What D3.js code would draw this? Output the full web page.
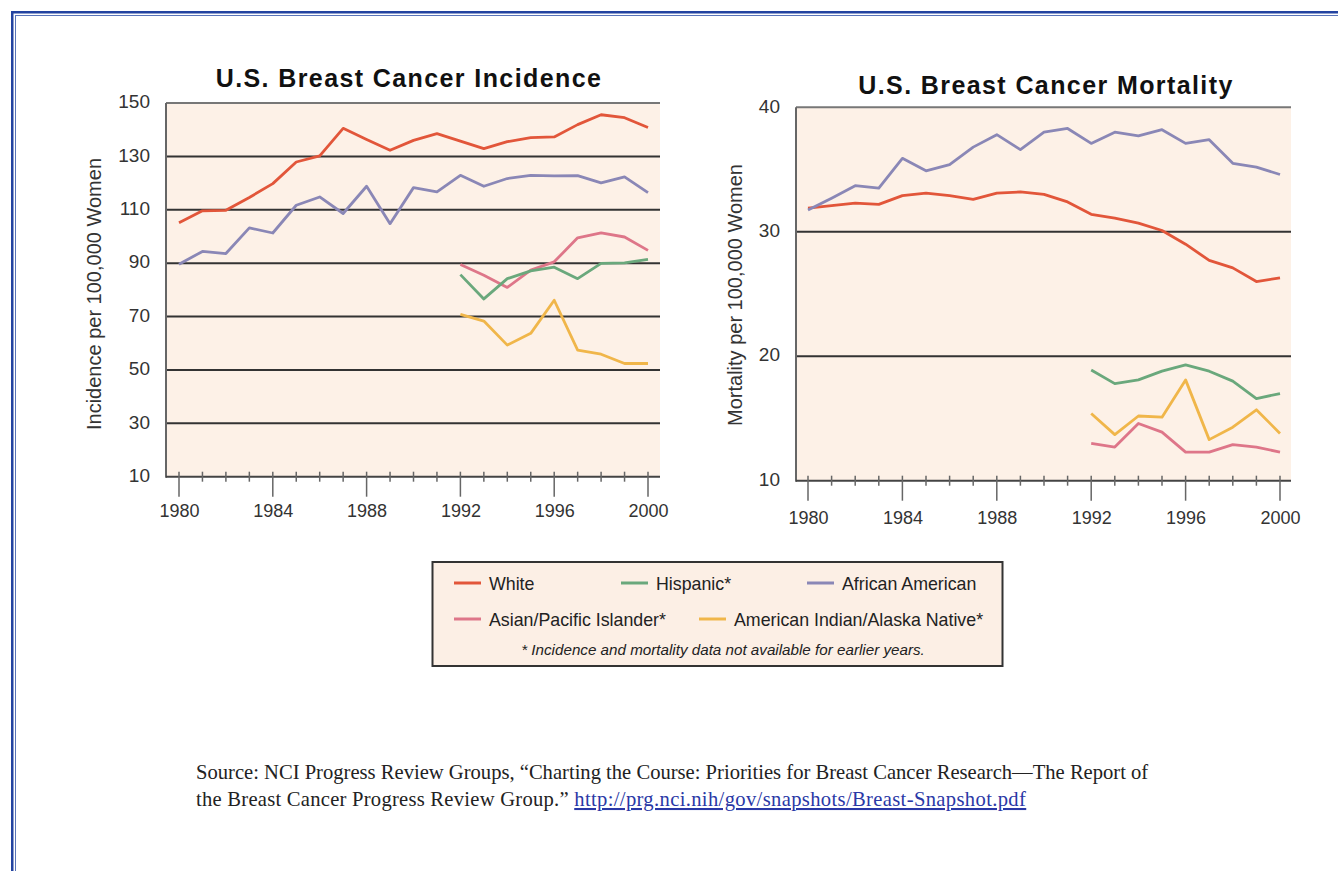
<!DOCTYPE html>
<html>
<head>
<meta charset="utf-8">
<script src="https://cdn.jsdelivr.net/npm/d3@7"></script>
<style>
  body { margin:0; background:#fff; overflow:hidden; }
  svg { display:block; }
  text { font-family:"Liberation Sans", Arial, Helvetica, sans-serif; fill:#2b2b2b; }
  .title { font-weight:bold; font-size:25px; letter-spacing:1.4px; fill:#111; }
  .tick text { font-size:19px; fill:#333; }
  .xlab text { font-size:18px; }
  .ytitle { font-size:20px; fill:#333; }
  .legend text { font-size:17.8px; fill:#222; }
  .source { font-family:"Liberation Serif", "Times New Roman", serif; font-size:20.6px; fill:#222; }
</style>
</head>
<body>
<div id="chart"></div>
<script>

// years on the x axis
var years = [1980,1981,1982,1983,1984,1985,1986,1987,1988,1989,1990,
             1991,1992,1993,1994,1995,1996,1997,1998,1999,2000];
var lateYears = [1992,1993,1994,1995,1996,1997,1998,1999,2000];
var labelYears = [1980,1984,1988,1992,1996,2000];

// incidence per 100,000 women
var incWhite    = [105.1,109.6,109.8,114.6,119.8,127.9,130.2,140.5,136.3,132.3,136.0,
                   138.5,135.7,132.9,135.5,137.0,137.3,141.9,145.6,144.5,140.8];
var incAfrican  = [89.6,94.4,93.6,103.2,101.3,111.7,114.8,108.6,118.8,104.8,118.3,
                   116.7,122.9,118.8,121.7,122.9,122.7,122.8,120.1,122.3,116.4];
var incHispanic = [85.7,76.6,84.2,87.1,88.5,84.2,89.9,90.1,91.4];
var incAsian    = [89.5,85.5,80.9,87.4,90.5,99.5,101.3,99.8,94.8];
var incIndian   = [70.8,68.3,59.3,63.7,76.1,57.4,55.9,52.4,52.4];
var incTicks    = [10,30,50,70,90,110,130,150];

// mortality per 100,000 women
var morWhite    = [31.9,32.1,32.3,32.2,32.9,33.1,32.9,32.6,33.1,33.2,33.0,
                   32.4,31.4,31.1,30.7,30.1,29.0,27.7,27.1,26.0,26.3];
var morAfrican  = [31.75,32.7,33.7,33.5,35.9,34.9,35.4,36.8,37.8,36.6,38.0,
                   38.3,37.1,38.0,37.7,38.2,37.1,37.4,35.5,35.2,34.6];
var morHispanic = [18.9,17.8,18.1,18.8,19.3,18.8,18.0,16.6,17.0];
var morAsian    = [13.0,12.7,14.6,13.9,12.3,12.3,12.9,12.7,12.3];
var morIndian   = [15.4,13.7,15.2,15.1,18.1,13.3,14.3,15.7,13.8];
var morTicks    = [10,20,30,40];

var colors = {white:"#e2563a", hispanic:"#6aa87c", african:"#8a87b6",
              asian:"#de7689", indian:"#f0b64a"};

var svg = d3.select("#chart").append("svg")
    .attr("width", 1338)
    .attr("height", 871);

// page frame (double blue rule running off the page)
svg.append("rect").attr("x", 12.25).attr("y", 12.25).attr("width", 1400).attr("height", 1000)
    .attr("fill", "none").attr("stroke", "#2343a0").attr("stroke-width", 2.5);
svg.append("rect").attr("x", 15.5).attr("y", 15.5).attr("width", 1400).attr("height", 1000)
    .attr("fill", "none").attr("stroke", "#5a74b8").attr("stroke-width", 1);

function drawPanel(cfg)
{
  var x = d3.scaleLinear().domain([1980, 2000]).range(cfg.xRange);
  var y = d3.scaleLinear().domain(cfg.yDomain).range(cfg.yRange);
  var g = svg.append("g");
  var left = cfg.plotX[0], right = cfg.plotX[1];
  var top = y(cfg.yDomain[1]), bottom = y(cfg.yDomain[0]);

  g.append("rect")
      .attr("x", left).attr("y", top)
      .attr("width", right - left).attr("height", bottom - top)
      .attr("fill", "#fdf1e7");

  // grid lines
  g.selectAll(".grid")
      .data(cfg.ticks.slice(1))
      .enter().append("line")
      .attr("class", "grid")
      .attr("x1", left).attr("x2", right)
      .attr("y1", function(d) { return y(d); })
      .attr("y2", function(d) { return y(d); })
      .attr("stroke", function(d) { return d == cfg.yDomain[1] ? "#777" : "#333"; })
      .attr("stroke-width", 2);

  // y axis labels
  var yAxis = d3.axisLeft(y).tickValues(cfg.ticks).tickSize(0).tickPadding(cfg.yPad)
      .tickFormat(d3.format("d"));
  var yg = g.append("g")
      .attr("transform", "translate(" + left + ",0)")
      .call(yAxis);
  yg.select(".domain").remove();
  yg.selectAll("text").attr("dy", "0.25em");

  // axis lines
  g.append("line").attr("x1", left).attr("x2", left).attr("y1", top).attr("y2", bottom + 1)
      .attr("stroke", "#666").attr("stroke-width", 2);
  g.append("line").attr("x1", left).attr("x2", right).attr("y1", bottom).attr("y2", bottom)
      .attr("stroke", "#444").attr("stroke-width", 2);

  // year ticks
  g.selectAll(".yt")
      .data(years)
      .enter().append("line")
      .attr("class", "yt")
      .attr("x1", function(d) { return x(d); })
      .attr("x2", function(d) { return x(d); })
      .attr("y1", bottom - 5)
      .attr("y2", function(d) { return labelYears.indexOf(d) >= 0 ? bottom + 20 : bottom + 5; })
      .attr("stroke", "#666").attr("stroke-width", 1.5);

  var xAxis = d3.axisBottom(x).tickValues(labelYears).tickSize(0).tickFormat(d3.format("d"));
  var xg = g.append("g")
      .attr("class", "xlab")
      .attr("transform", "translate(0," + bottom + ")")
      .call(xAxis);
  xg.select(".domain").remove();
  xg.selectAll("text").attr("y", cfg.xLabY).attr("dy", 0);

  var line = d3.line()
      .x(function(d) { return x(d[0]); })
      .y(function(d) { return y(d[1]); });

  cfg.series.forEach(function(s) {
    g.append("path")
        .datum(d3.zip(s.years, s.values))
        .attr("fill", "none")
        .attr("stroke", s.color)
        .attr("stroke-width", 2.8)
        .attr("stroke-linejoin", "round")
        .attr("d", line);
  });

  g.append("text")
      .attr("class", "title")
      .attr("x", cfg.titleX).attr("y", cfg.titleY)
      .attr("text-anchor", "middle")
      .text(cfg.title);

  g.append("text")
      .attr("class", "ytitle")
      .attr("transform", "translate(" + cfg.yTitleX + "," + cfg.yTitleY + ") rotate(-90)")
      .attr("text-anchor", "middle")
      .text(cfg.yTitle);
}

drawPanel({
  xRange:[179, 648], plotX:[166, 660],
  yDomain:[10, 150], yRange:[476.7, 103], ticks:incTicks, yPad:16,
  xLabY:40,
  title:"U.S. Breast Cancer Incidence", titleX:409, titleY:87,
  yTitle:"Incidence per 100,000 Women", yTitleX:101, yTitleY:294,
  series:[
    {years:years, values:incWhite, color:colors.white},
    {years:years, values:incAfrican, color:colors.african},
    {years:lateYears, values:incAsian, color:colors.asian},
    {years:lateYears, values:incHispanic, color:colors.hispanic},
    {years:lateYears, values:incIndian, color:colors.indian}
  ]
});

drawPanel({
  xRange:[808, 1280], plotX:[796, 1291],
  yDomain:[10, 40], yRange:[480.7, 107.3], ticks:morTicks, yPad:16,
  xLabY:43,
  title:"U.S. Breast Cancer Mortality", titleX:1046, titleY:94,
  yTitle:"Mortality per 100,000 Women", yTitleX:742, yTitleY:295,
  series:[
    {years:years, values:morWhite, color:colors.white},
    {years:years, values:morAfrican, color:colors.african},
    {years:lateYears, values:morHispanic, color:colors.hispanic},
    {years:lateYears, values:morIndian, color:colors.indian},
    {years:lateYears, values:morAsian, color:colors.asian}
  ]
});

// legend
var legendItems = [
  {name:"White", color:colors.white, x:454, y:583},
  {name:"Hispanic*", color:colors.hispanic, x:621, y:583},
  {name:"African American", color:colors.african, x:807, y:583},
  {name:"Asian/Pacific Islander*", color:colors.asian, x:454, y:619},
  {name:"American Indian/Alaska Native*", color:colors.indian, x:699, y:619}
];

var lg = svg.append("g").attr("class", "legend");
lg.append("rect").attr("x", 432.5).attr("y", 562).attr("width", 570).attr("height", 104)
    .attr("fill", "#fcefe5").attr("stroke", "#333").attr("stroke-width", 2);

var li = lg.selectAll(".item").data(legendItems).enter().append("g").attr("class", "item");
li.append("line")
    .attr("x1", function(d) { return d.x; })
    .attr("x2", function(d) { return d.x + 27; })
    .attr("y1", function(d) { return d.y; })
    .attr("y2", function(d) { return d.y; })
    .attr("stroke", function(d) { return d.color; })
    .attr("stroke-width", 3);
li.append("text")
    .attr("x", function(d) { return d.x + 35; })
    .attr("y", function(d) { return d.y + 6.5; })
    .text(function(d) { return d.name; });

lg.append("text")
    .attr("x", 723).attr("y", 655)
    .attr("text-anchor", "middle")
    .style("font-size", "15.2px").style("font-style", "italic")
    .text("* Incidence and mortality data not available for earlier years.");

// source note
svg.append("text").attr("class", "source").attr("x", 196).attr("y", 779)
    .text("Source: NCI Progress Review Groups, \u201cCharting the Course: Priorities for Breast Cancer Research\u2014The Report of");
var src2 = svg.append("text").attr("class", "source").attr("x", 196).attr("y", 806);
src2.append("tspan").style("letter-spacing", "0.25px")
    .text("the Breast Cancer Progress Review Group.\u201d ");
src2.append("tspan")
    .style("fill", "#2a38a6").style("text-decoration", "underline").style("letter-spacing", "0.35px")
    .text("http://prg.nci.nih/gov/snapshots/Breast-Snapshot.pdf");

</script>
</body>
</html>
